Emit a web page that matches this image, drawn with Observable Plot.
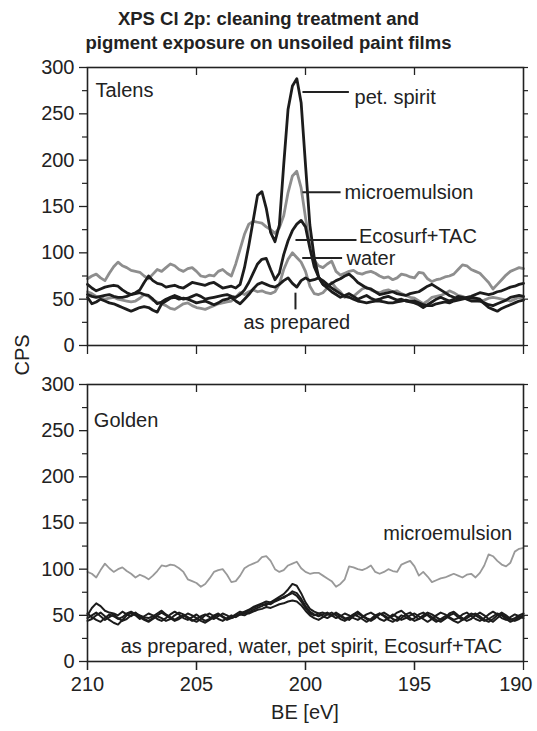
<!DOCTYPE html>
<html><head><meta charset="utf-8">
<script src="https://cdn.jsdelivr.net/npm/d3@7"></script>
<script src="https://cdn.jsdelivr.net/npm/@observablehq/plot@0.6"></script>
<style>
body{margin:0;background:#fff;}
#wrap{position:relative;width:537px;height:731px;font-family:"Liberation Sans",Arial,Helvetica,sans-serif;color:#222;}
.title{position:absolute;left:0;width:537px;text-align:center;font-weight:bold;font-size:18.5px;line-height:21px;}
#cps{position:absolute;left:22px;top:355px;transform:translate(-50%,-50%) rotate(-90deg);font-size:20px;z-index:5;}
#xlab{position:absolute;left:305px;top:712px;transform:translate(-50%,-50%);font-size:20px;white-space:nowrap;z-index:5;}
</style></head><body>
<div id="wrap">
<div class="title" style="top:8px">XPS Cl 2p: cleaning treatment and</div>
<div class="title" style="top:32px">pigment exposure on unsoiled paint films</div>
<div id="top" style="position:absolute;left:0;top:60px"></div>
<div id="bot" style="position:absolute;left:0;top:377px"></div>
<div id="cps">CPS</div>
<div id="xlab">BE [eV]</div>
</div>
<script>
// Binding energy grid (eV)
const be = [
210,209.8,209.6,209.4,209.2,209,208.8,208.6,208.4,208.2,
208,207.8,207.6,207.4,207.2,207,206.8,206.6,206.4,206.2,
206,205.8,205.6,205.4,205.2,205,204.8,204.6,204.4,204.2,
204,203.8,203.6,203.4,203.2,203,202.8,202.6,202.4,202.2,
202,201.8,201.6,201.4,201.2,201,200.8,200.6,200.4,200.2,
200,199.8,199.6,199.4,199.2,199,198.8,198.6,198.4,198.2,
198,197.8,197.6,197.4,197.2,197,196.8,196.6,196.4,196.2,
196,195.8,195.6,195.4,195.2,195,194.8,194.6,194.4,194.2,
194,193.8,193.6,193.4,193.2,193,192.8,192.6,192.4,192.2,
192,191.8,191.6,191.4,191.2,191,190.8,190.6,190.4,190.2,
190];

// Talens panel (CPS)
const talensMicro = [
72,75,77,73,70,78,85,90,86,84,
81,80,79,75,72,77,82,80,84,88,
86,82,80,83,84,80,75,74,76,75,
80,82,78,75,88,104,120,131,134,133,
132,128,125,121,127,140,165,183,188,170,
138,108,92,86,84,88,91,80,76,78,
80,81,78,77,79,80,78,75,73,74,
71,73,77,76,74,73,79,78,72,69,
71,72,74,75,77,82,87,86,82,80,
78,73,68,61,66,71,76,80,82,84,
83];
const talensWater = [
58,56,53,52,50,51,52,50,49,48,
47,48,51,55,53,49,47,45,43,40,
39,42,45,46,43,41,40,39,41,43,
45,46,47,48,52,57,55,58,60,58,
59,57,56,58,66,82,93,100,95,90,
80,64,56,55,57,62,68,62,58,52,
55,53,57,61,63,60,58,57,59,60,
58,59,56,54,52,51,48,45,48,52,
53,54,56,59,57,54,53,51,50,49,
48,49,51,52,51,50,49,48,50,52,
51];
const talensPet = [
66,62,59,61,63,64,65,64,60,57,
55,57,60,68,75,70,67,66,63,64,
65,63,62,65,68,67,66,65,67,68,
65,62,63,64,62,66,84,108,135,162,
166,148,122,112,130,195,255,280,288,262,
195,130,95,74,66,64,67,70,72,75,
77,73,68,65,62,61,58,55,56,57,
58,56,55,54,56,57,58,61,64,66,
63,60,57,54,52,50,51,52,53,55,
57,56,55,56,58,59,61,63,64,66,
67];
const talensEco = [
55,53,52,53,54,55,53,52,52,53,
55,56,57,55,54,50,45,47,50,52,
54,52,50,51,53,55,53,50,51,52,
53,54,55,53,52,55,60,68,78,88,
93,94,82,71,78,98,113,124,131,135,
128,105,85,74,66,62,58,55,52,54,
56,53,50,52,54,51,49,50,52,53,
51,49,50,48,47,46,44,41,44,47,
50,52,50,48,50,53,52,50,48,48,
48,46,44,43,45,47,49,52,53,54,
53];
const talensPrep = [
52,45,47,50,48,46,45,43,41,39,
37,39,41,42,41,38,36,45,48,51,
52,50,51,50,48,46,47,48,46,44,
46,49,50,52,48,45,50,55,61,66,
68,66,64,63,66,70,73,67,63,70,
73,70,71,73,70,66,62,59,56,53,
52,50,48,47,46,47,48,48,47,46,
46,47,48,49,48,48,46,44,43,43,
45,46,47,46,48,49,50,51,52,51,
50,45,41,39,37,40,42,44,46,48,
49];

// Golden panel (CPS)
const goldenMicro = [
97,95,91,99,106,101,97,100,102,98,
95,91,94,92,89,93,98,104,103,105,
104,101,97,89,87,85,81,84,90,97,
99,100,94,86,87,93,101,104,106,108,
113,114,109,100,97,99,104,106,108,101,
97,95,96,96,93,90,87,81,84,89,
103,102,100,99,101,104,97,95,97,100,
98,97,105,107,109,103,93,97,92,86,
88,90,91,93,95,93,91,94,95,91,
96,104,116,114,109,105,103,107,119,122,
123];
const goldenPrep = [
50,58,63,60,55,53,52,50,54,51,
49,52,50,48,47,49,52,55,51,48,
45,48,50,47,44,46,49,51,48,46,
49,52,50,47,49,52,54,56,59,61,
63,65,64,67,70,73,78,84,82,74,
64,57,54,52,53,51,50,52,49,46,
48,51,54,50,47,45,48,52,50,47,
49,53,55,51,47,44,46,50,53,51,
48,45,47,52,54,50,47,44,46,50,
53,50,46,43,47,51,48,45,47,50,
52];
const goldenWater = [
47,50,53,49,45,48,51,47,44,46,
50,53,49,46,44,47,50,53,50,47,
44,46,49,52,50,47,44,42,45,48,
51,49,46,48,51,54,52,55,58,60,
62,61,64,66,68,69,72,76,74,68,
60,54,51,49,51,53,50,47,49,52,
50,47,45,48,51,53,50,46,44,47,
51,48,45,47,50,52,49,46,43,46,
50,53,51,48,45,47,51,53,49,46,
44,47,51,54,51,47,45,48,51,49,
47];
const goldenPet = [
44,46,50,53,49,45,42,40,45,50,
53,50,46,49,52,50,46,44,47,51,
54,51,47,45,48,51,47,44,46,50,
52,48,45,47,49,51,50,53,56,58,
60,63,62,65,67,70,72,74,71,65,
58,52,50,52,49,47,50,53,50,47,
45,49,52,49,46,44,47,51,53,50,
46,44,47,51,53,49,46,48,51,48,
45,43,46,50,52,48,45,47,50,52,
49,45,43,46,50,53,50,46,44,46,
49];
const goldenEco = [
52,48,45,43,47,51,49,46,48,52,
54,51,48,45,43,46,49,47,44,46,
50,53,51,48,45,43,46,50,52,49,
46,44,47,50,48,51,53,52,54,56,
57,59,58,60,62,63,65,66,65,61,
55,50,47,45,48,51,53,50,46,44,
47,51,49,46,43,46,50,52,49,45,
43,46,50,48,45,47,51,53,50,46,
43,46,49,47,44,42,45,49,52,50,
47,44,46,49,52,50,46,43,45,48,
50];

// Axis ticks
const xTicks = [210, 205, 200, 195, 190];
const xInner = [205, 200, 195];
const yMajor = [0, 50, 100, 150, 200, 250, 300];
const yMinor = [25, 75, 125, 175, 225, 275];
const yAll = [0, 25, 50, 75, 100, 125, 150, 175, 200, 225, 250, 275, 300];

// Annotations (data coordinates)
const talensText = [
  {text: "Talens", be: 209.63, cps: 275, anchor: "start"},
  {text: "pet. spirit", be: 197.75, cps: 268, anchor: "start"},
  {text: "microemulsion", be: 198.21, cps: 165, anchor: "start"},
  {text: "Ecosurf+TAC", be: 197.55, cps: 117, anchor: "start"},
  {text: "water", be: 198.12, cps: 94, anchor: "start"},
  {text: "as prepared", be: 200.4, cps: 24.6, anchor: "middle"}
];
const talensLeaders = [
  {be1: 200.14, be2: 198.01, c1: 273.6, c2: 273.6},
  {be1: 200.14, be2: 198.39, c1: 165.4, c2: 165.4},
  {be1: 200.46, be2: 197.66, c1: 113.9, c2: 113.9},
  {be1: 200.15, be2: 198.32, c1: 94.4, c2: 94.4},
  {be1: 200.46, be2: 200.46, c1: 57, c2: 39}
];
const goldenText = [
  {text: "Golden", be: 209.71, cps: 261, anchor: "start"},
  {text: "microemulsion", be: 190.52, cps: 139, anchor: "end"},
  {text: "as prepared, water, pet spirit, Ecosurf+TAC", be: 199.73, cps: 16.2, anchor: "middle"}
];

const series = [
  [talensMicro,"talensMicro"],[talensWater,"talensWater"],[talensPet,"talensPet"],
  [talensEco,"talensEco"],[talensPrep,"talensPrep"],[goldenMicro,"goldenMicro"],
  [goldenPrep,"goldenPrep"],[goldenWater,"goldenWater"],[goldenPet,"goldenPet"],[goldenEco,"goldenEco"]];
for (const [a, n] of series) if (a.length !== be.length) throw new Error(n + " has " + a.length);

const rows = (vals, name) => vals.map((v, i) => ({be: be[i], cps: v, series: name}));
const GRAY = "#8e8e8e", BLACK = "#1c1c1c", INK = "#222";
const FONT = "Liberation Sans, Arial, Helvetica, sans-serif";

function panel({grays, blacks, texts, leaders, lwGray, lwBlack, grayColor, showXLabels, height, marginBottom}) {
  const marks = [
    Plot.axisY(yMajor, {tickSize: 8, tickPadding: 5, fontSize: 20, label: null, fill: INK, stroke: INK, strokeWidth: 1.3}),
    Plot.axisY(yMinor, {tickSize: 5, text: null, label: null, stroke: INK, strokeWidth: 1.2}),
    Plot.axisY(yAll, {anchor: "right", tickSize: 4, text: null, label: null, stroke: INK, strokeWidth: 1.2}),
    Plot.axisX(xTicks, {anchor: "bottom", tickSize: 9, text: null, label: null, stroke: INK, strokeWidth: 1.3}),
    Plot.axisX(xInner, {anchor: "top", tickSize: -7, text: null, label: null, stroke: INK, strokeWidth: 1.3}),
    Plot.line(grays.flatMap(([v, n]) => rows(v, n)), {x: "be", y: "cps", z: "series", stroke: grayColor, strokeWidth: lwGray, strokeLinejoin: "round"}),
    Plot.line(blacks.flatMap(([v, n]) => rows(v, n)), {x: "be", y: "cps", z: "series", stroke: BLACK, strokeWidth: lwBlack, strokeLinejoin: "round"}),
    Plot.link(leaders, {x1: "be1", x2: "be2", y1: "c1", y2: "c2", stroke: INK, strokeWidth: 2}),
    ...["start", "middle", "end"].map(a =>
      Plot.text(texts.filter(d => d.anchor === a), {x: "be", y: "cps", text: "text", textAnchor: a, lineAnchor: "middle", fontSize: 20, fill: INK})),
    Plot.frame({stroke: INK, strokeWidth: 1.6})
  ];
  if (showXLabels) {
    marks.push(Plot.axisX(xTicks.slice(0, -1), {anchor: "bottom", tickSize: 9, tickPadding: 6, fontSize: 20, label: null, fill: INK, stroke: INK, strokeWidth: 1.3}));
    marks.push(Plot.axisX(xTicks.slice(-1), {anchor: "bottom", tickSize: 0, tickPadding: 15, fontSize: 20, label: null, fill: INK, textAnchor: "end", dx: 9}));
  }
  return Plot.plot({
    width: 537, height, marginLeft: 87, marginRight: 14, marginTop: 7, marginBottom,
    style: {fontFamily: FONT, background: "white", overflow: "visible"},
    x: {domain: [210, 190]},
    y: {domain: [0, 300]},
    marks
  });
}

document.getElementById("top").append(panel({
  grays: [[talensMicro, "microemulsion"], [talensWater, "water"]],
  blacks: [[talensPet, "pet. spirit"], [talensEco, "Ecosurf+TAC"], [talensPrep, "as prepared"]],
  texts: talensText, leaders: talensLeaders, lwGray: 2.8, lwBlack: 2.8, grayColor: GRAY,
  showXLabels: false, height: 297, marginBottom: 12
}));
document.getElementById("bot").append(panel({
  grays: [[goldenMicro, "microemulsion"]],
  blacks: [[goldenPrep, "as prepared"], [goldenWater, "water"], [goldenPet, "pet spirit"], [goldenEco, "Ecosurf+TAC"]],
  texts: goldenText, leaders: [], lwGray: 1.8, lwBlack: 2, grayColor: "#999",
  showXLabels: true, height: 354, marginBottom: 70
}));
</script>
</body></html>
